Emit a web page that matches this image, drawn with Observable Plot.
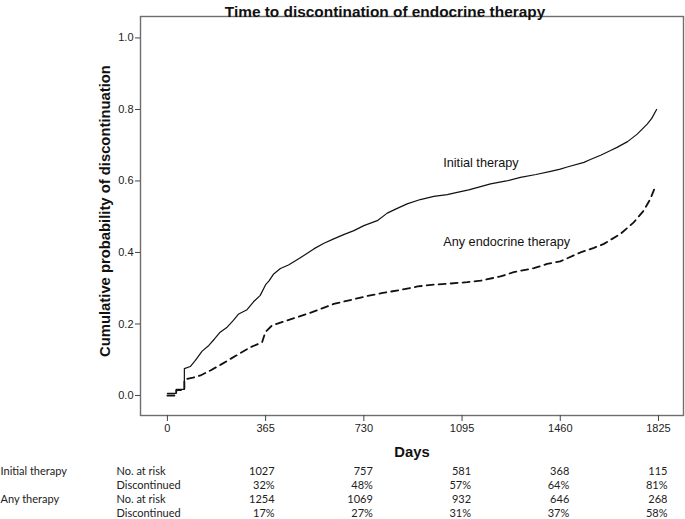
<!DOCTYPE html>
<html><head><meta charset="utf-8">
<script src="https://cdn.jsdelivr.net/npm/d3@7"></script>
<script src="https://cdn.jsdelivr.net/npm/@observablehq/plot@0.6"></script>
<style>body{margin:0;background:#fff;} #chart svg{display:block;}</style>
</head><body><div id="chart"></div>
<script>
// Kaplan–Meier style cumulative probability of discontinuation
const initialDays = [0,33,33,63,63,85,104,129,154,175,196,222,245,265,296,320,345,365,377,395,420,450,494,544,580,618,655,693,730,780,817,850,891,940,990,1040,1077,1120,1164,1201,1260,1312,1370,1424,1460,1486,1548,1572,1610,1647,1671,1710,1746,1783,1800,1818];
const initialProb = [0.006,0.006,0.017,0.017,0.075,0.081,0.098,0.124,0.14,0.158,0.177,0.191,0.21,0.228,0.24,0.262,0.28,0.31,0.32,0.34,0.355,0.365,0.385,0.41,0.425,0.438,0.45,0.461,0.475,0.489,0.51,0.522,0.536,0.548,0.557,0.562,0.568,0.575,0.584,0.592,0.6,0.61,0.618,0.627,0.633,0.639,0.652,0.66,0.672,0.685,0.694,0.71,0.731,0.759,0.775,0.8];
const anyDays = [0,33,33,63,63,95,123,160,200,234,270,309,352,364,389,445,519,569,618,680,742,800,866,930,990,1050,1114,1164,1238,1287,1362,1411,1460,1535,1585,1622,1684,1733,1770,1795,1810];
const anyProb = [0,0,0.015,0.015,0.045,0.05,0.056,0.07,0.087,0.102,0.118,0.135,0.149,0.177,0.196,0.21,0.228,0.242,0.256,0.267,0.278,0.287,0.295,0.305,0.31,0.313,0.317,0.321,0.333,0.345,0.356,0.368,0.375,0.4,0.413,0.424,0.452,0.484,0.517,0.55,0.578];

const xTicks = [0,365,730,1095,1460,1825];
const yTicks = [0,0.2,0.4,0.6,0.8,1.0];
const curveLabelText = ["Initial therapy","Any endocrine therapy"];
const curveLabelDay = [1025,1025];
const curveLabelProb = [0.651,0.43];

// number-at-risk table
const riskTimes = [365,730,1095,1460,1825];
const rowGroups = ["Initial therapy","","Any therapy",""];
const rowMeasures = ["No. at risk","Discontinued","No. at risk","Discontinued"];
const initialAtRisk = ["1027","757","581","368","115"];
const initialDisc = ["32%","48%","57%","64%","81%"];
const anyAtRisk = ["1254","1069","932","646","268"];
const anyDisc = ["17%","27%","31%","37%","58%"];

const titleText = "Time to discontination of endocrine therapy";
const xLabel = "Days";
const yLabel = "Cumulative probability of discontinuation";

const initialData = initialDays.map((d,i)=>({day:d, p:initialProb[i]}));
const anyData = anyDays.map((d,i)=>({day:d, p:anyProb[i]}));
const curveLabels = curveLabelText.map((t,i)=>({label:t, day:curveLabelDay[i], p:curveLabelProb[i]}));

const font = "'Liberation Sans', Arial, sans-serif";
const xDomain = [-100, 1918];

const main = Plot.plot({
  width: 685, height: 465,
  marginLeft: 140, marginRight: 2, marginTop: 16, marginBottom: 50,
  style: {fontFamily: font, background: "#fff", color: "#222", overflow: "visible"},
  x: {domain: xDomain},
  y: {domain: [-0.056, 1.06]},
  marks: [
    Plot.frame({stroke: "#6e6e6e", strokeWidth: 1.4}),
    Plot.axisX({ticks: xTicks, tickSize: 6, tickPadding: 3, fontSize: 11, label: null, stroke: "#444", tickFormat: d => String(d)}),
    Plot.axisY({ticks: yTicks, tickSize: 5, tickPadding: 2, fontSize: 11, label: null, stroke: "#444", tickFormat: d3.format(".1f")}),
    Plot.line(initialData, {x: "day", y: "p", stroke: "#111", strokeWidth: 1.2}),
    Plot.line(anyData, {x: "day", y: "p", stroke: "#111", strokeWidth: 1.8, strokeDasharray: "7,5"}),
    Plot.text(curveLabels, {x: "day", y: "p", text: "label", textAnchor: "start", fontSize: 12.7, fill: "#111"}),
    Plot.text([titleText], {frameAnchor: "top", dx: -27, dy: -10, fontSize: 15.4, fontWeight: "bold", fill: "#111"}),
    Plot.text([xLabel], {frameAnchor: "bottom", dy: 41, fontSize: 14.8, fontWeight: "bold", fill: "#111"}),
    Plot.text([yLabel], {frameAnchor: "left", textAnchor: "middle", rotate: -90, dx: -35, dy: -5, fontSize: 14.8, fontWeight: "bold", fill: "#111"})
  ]
});

const rowKeys = ["r1","r2","r3","r4"];
const rowValues = [initialAtRisk, initialDisc, anyAtRisk, anyDisc];
const rows = rowKeys.map((k,i)=>({key:k, group:rowGroups[i], measure:rowMeasures[i]}));
const cells = rowKeys.flatMap((k,i)=>riskTimes.map((t,j)=>({row:k, day:t, text:rowValues[i][j]})));

const table = Plot.plot({
  width: 685, height: 54,
  marginLeft: 140, marginRight: 2, marginTop: 5, marginBottom: 6,
  style: {fontFamily: "Lato, 'Open Sans', sans-serif", background: "#fff", overflow: "visible"},
  x: {domain: xDomain, axis: null},
  y: {type: "point", domain: rowKeys, padding: 0, axis: null},
  marks: [
    Plot.text(cells, {x: "day", y: "row", text: "text", textAnchor: "end", dx: 9, fontSize: 11, fill: "#222"}),
    Plot.text(rows, {y: "key", text: "group", frameAnchor: "left", textAnchor: "start", dx: -140, fontSize: 11, fill: "#222"}),
    Plot.text(rows, {y: "key", text: "measure", frameAnchor: "left", textAnchor: "start", dx: -24, fontSize: 11, fill: "#222"})
  ]
});

const el = document.getElementById("chart");
el.appendChild(main);
el.appendChild(table);
</script>
</body></html>
